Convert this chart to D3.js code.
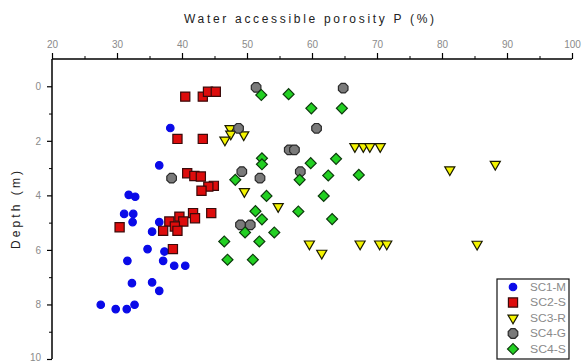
<!DOCTYPE html>
<html>
<head>
<meta charset="utf-8">
<script src="https://cdn.jsdelivr.net/npm/d3@7"></script>
<style>
  body { margin: 0; background: #fff; }
  svg { display: block; font-family: Arial, "Liberation Sans", sans-serif; }
</style>
</head>
<body>
<svg id="chart" width="582" height="363"></svg>
<script>
// porosity (%) and depth (m) per sample group
var sc1mP = [38.2, 36.5, 31.8, 32.8, 31.1, 32.5, 32.4, 36.5, 35.4, 34.7, 37.3, 31.6, 37.1, 38.8, 40.5, 32.3, 35.4, 36.5, 27.5, 29.8, 31.5, 32.7];
var sc1mD = [1.53, 2.9, 3.98, 4.05, 4.68, 4.68, 4.98, 4.98, 5.33, 5.97, 6.06, 6.4, 6.4, 6.58, 6.58, 7.22, 7.19, 7.5, 8.01, 8.17, 8.17, 8.01];

var sc2sP = [40.5, 43.2, 44.0, 45.2, 39.3, 43.2, 40.8, 41.9, 42.9, 44.9, 44.05, 43.0, 41.7, 44.5, 42.0, 39.6, 38.05, 40.2, 38.9, 37.1, 39.3, 38.6, 30.4];
var sc2sD = [0.38, 0.38, 0.2, 0.2, 1.93, 1.93, 3.19, 3.29, 3.31, 3.65, 3.68, 3.83, 4.65, 4.65, 4.84, 4.78, 4.96, 4.96, 5.14, 5.3, 5.3, 5.97, 5.17];

var sc3rP = [47.4, 47.5, 46.6, 49.5, 66.6, 67.9, 68.9, 70.5, 81.2, 88.2, 49.6, 54.8, 59.6, 61.5, 67.4, 70.4, 71.5, 85.4];
var sc3rD = [1.55, 1.75, 1.97, 1.78, 2.21, 2.21, 2.21, 2.21, 3.06, 2.86, 3.86, 4.41, 5.78, 6.12, 5.78, 5.78, 5.78, 5.79];

var sc4gP = [51.4, 48.7, 64.8, 60.7, 56.5, 57.3, 58.2, 38.4, 49.2, 52.0, 49.0, 50.5];
var sc4gD = [0.04, 1.54, 0.07, 1.54, 2.33, 2.33, 3.13, 3.37, 3.13, 3.37, 5.08, 5.08];

var sc4sP = [52.2, 56.4, 59.9, 64.6, 52.3, 52.3, 59.8, 63.7, 62.5, 67.2, 48.2, 58.1, 53.0, 61.8, 51.3, 57.9, 52.3, 63.1, 54.2, 49.7, 51.9, 46.5, 47.0, 50.9];
var sc4sD = [0.32, 0.29, 0.81, 0.81, 2.64, 2.86, 2.82, 2.66, 3.27, 3.25, 3.43, 3.43, 4.02, 4.02, 4.58, 4.59, 4.88, 4.87, 5.36, 5.36, 5.69, 5.69, 6.36, 6.36];

var seriesNames = ['SC1-M', 'SC2-S', 'SC3-R', 'SC4-G', 'SC4-S'];
var xTicks = [20, 30, 40, 50, 60, 70, 80, 90, 100];
var yTicks = [0, 2, 4, 6, 8, 10];

var svg = d3.select('#chart');
var x = d3.scaleLinear().domain([20, 100]).range([52, 572]);
var y = d3.scaleLinear().domain([-1, 10]).range([59, 359]);

// octagon symbol
var symbolOctagon = {
  draw: function(ctx, size) {
    var r = Math.sqrt(size / 2.83);
    for (var i = 0; i < 8; i++) {
      var a = Math.PI / 8 + i * Math.PI / 4;
      if (i == 0) ctx.moveTo(r * Math.cos(a), r * Math.sin(a));
      else ctx.lineTo(r * Math.cos(a), r * Math.sin(a));
    }
    ctx.closePath();
  }
};

var styles = [
  {type: d3.symbolCircle, size: 44, fill: '#0a0ae8', stroke: '#0a0ae8', rot: 0},
  {type: d3.symbolSquare, size: 84, fill: '#dd0c0c', stroke: '#3a0a0a', rot: 0},
  {type: d3.symbolTriangle, size: 44, fill: '#f4f400', stroke: '#1a1a00', rot: 180},
  {type: symbolOctagon, size: 76, fill: '#7a7a7a', stroke: '#2a2a2a', rot: 0},
  {type: d3.symbolSquare, size: 60, fill: '#22d022', stroke: '#0d3a0d', rot: 45}
];

var series = [
  {p: sc1mP, d: sc1mD},
  {p: sc2sP, d: sc2sD},
  {p: sc3rP, d: sc3rD},
  {p: sc4gP, d: sc4gD},
  {p: sc4sP, d: sc4sD}
];

// top axis
var xAxis = d3.axisTop(x).tickValues(xTicks).tickSize(6).tickPadding(5).tickFormat(d3.format('d'));
var gx = svg.append('g').attr('transform', 'translate(0,59)').call(xAxis);
gx.selectAll('text').attr('fill', '#8a8a8a').style('font-size', '10px');
gx.select('.domain').attr('stroke', '#000').attr('stroke-width', 1.5).attr('d', 'M52,0H572');
gx.selectAll('.tick line').attr('stroke', '#000').attr('stroke-width', 1.2);
svg.append('g').attr('transform', 'translate(0,59)')
    .call(d3.axisTop(x).tickValues(d3.range(25, 100, 10)).tickSize(3).tickFormat(''))
    .call(function(g) { g.select('.domain').remove(); })
    .selectAll('line').attr('stroke', '#000');

// left axis
var yAxis = d3.axisLeft(y).tickValues(yTicks).tickSize(5).tickPadding(6).tickFormat(d3.format('d'));
var gy = svg.append('g').attr('transform', 'translate(52,0)').call(yAxis);
gy.selectAll('text').attr('fill', '#8a8a8a').style('font-size', '10px');
gy.selectAll('.tick text').filter(function(d) { return d == 10; }).attr('dy', '0.1em');
gy.select('.domain').attr('stroke', '#000').attr('stroke-width', 1.5).attr('d', 'M0,59V359');
gy.selectAll('.tick line').attr('stroke', '#000').attr('stroke-width', 1.2);
svg.append('g').attr('transform', 'translate(52,0)')
    .call(d3.axisLeft(y).tickValues([1, 3, 5, 7, 9]).tickSize(3).tickFormat(''))
    .call(function(g) { g.select('.domain').remove(); })
    .selectAll('line').attr('stroke', '#000');

// titles
svg.append('text').attr('x', 309).attr('y', 23).attr('text-anchor', 'middle')
    .attr('textLength', 250).attr('lengthAdjust', 'spacing')
    .style('font-size', '12px').attr('fill', '#222')
    .text('Water accessible porosity P (%)');
svg.append('text').attr('transform', 'translate(20,210) rotate(-90)').attr('text-anchor', 'middle')
    .attr('textLength', 78).attr('lengthAdjust', 'spacing')
    .style('font-size', '12px').attr('fill', '#222')
    .text('Depth (m)');

// points
series.forEach(function(s, k) {
  var st = styles[k];
  var sym = d3.symbol().type(st.type).size(st.size);
  svg.append('g').selectAll('path').data(s.p).enter().append('path')
      .attr('d', sym)
      .attr('transform', function(v, i) {
        return 'translate(' + x(v) + ',' + y(s.d[i]) + ') rotate(' + st.rot + ')';
      })
      .attr('fill', st.fill)
      .attr('stroke', st.stroke)
      .attr('stroke-width', 1.2);
});

// legend
var lg = svg.append('g');
lg.append('rect').attr('x', 497).attr('y', 279).attr('width', 72).attr('height', 80)
    .attr('fill', '#fff').attr('stroke', '#111').attr('stroke-width', 1.2);
seriesNames.forEach(function(name, k) {
  var st = styles[k];
  var cy = 287 + k * 15.5;
  lg.append('path').attr('d', d3.symbol().type(st.type).size(st.size)())
      .attr('transform', 'translate(513,' + cy + ') rotate(' + st.rot + ')')
      .attr('fill', st.fill).attr('stroke', st.stroke).attr('stroke-width', 1.2);
  lg.append('text').attr('x', 530).attr('y', cy + 3.5)
      .attr('textLength', 36).attr('lengthAdjust', 'spacingAndGlyphs')
      .style('font-size', '10px').attr('fill', '#8a8a8a').text(name);
});
</script>
</body>
</html>
